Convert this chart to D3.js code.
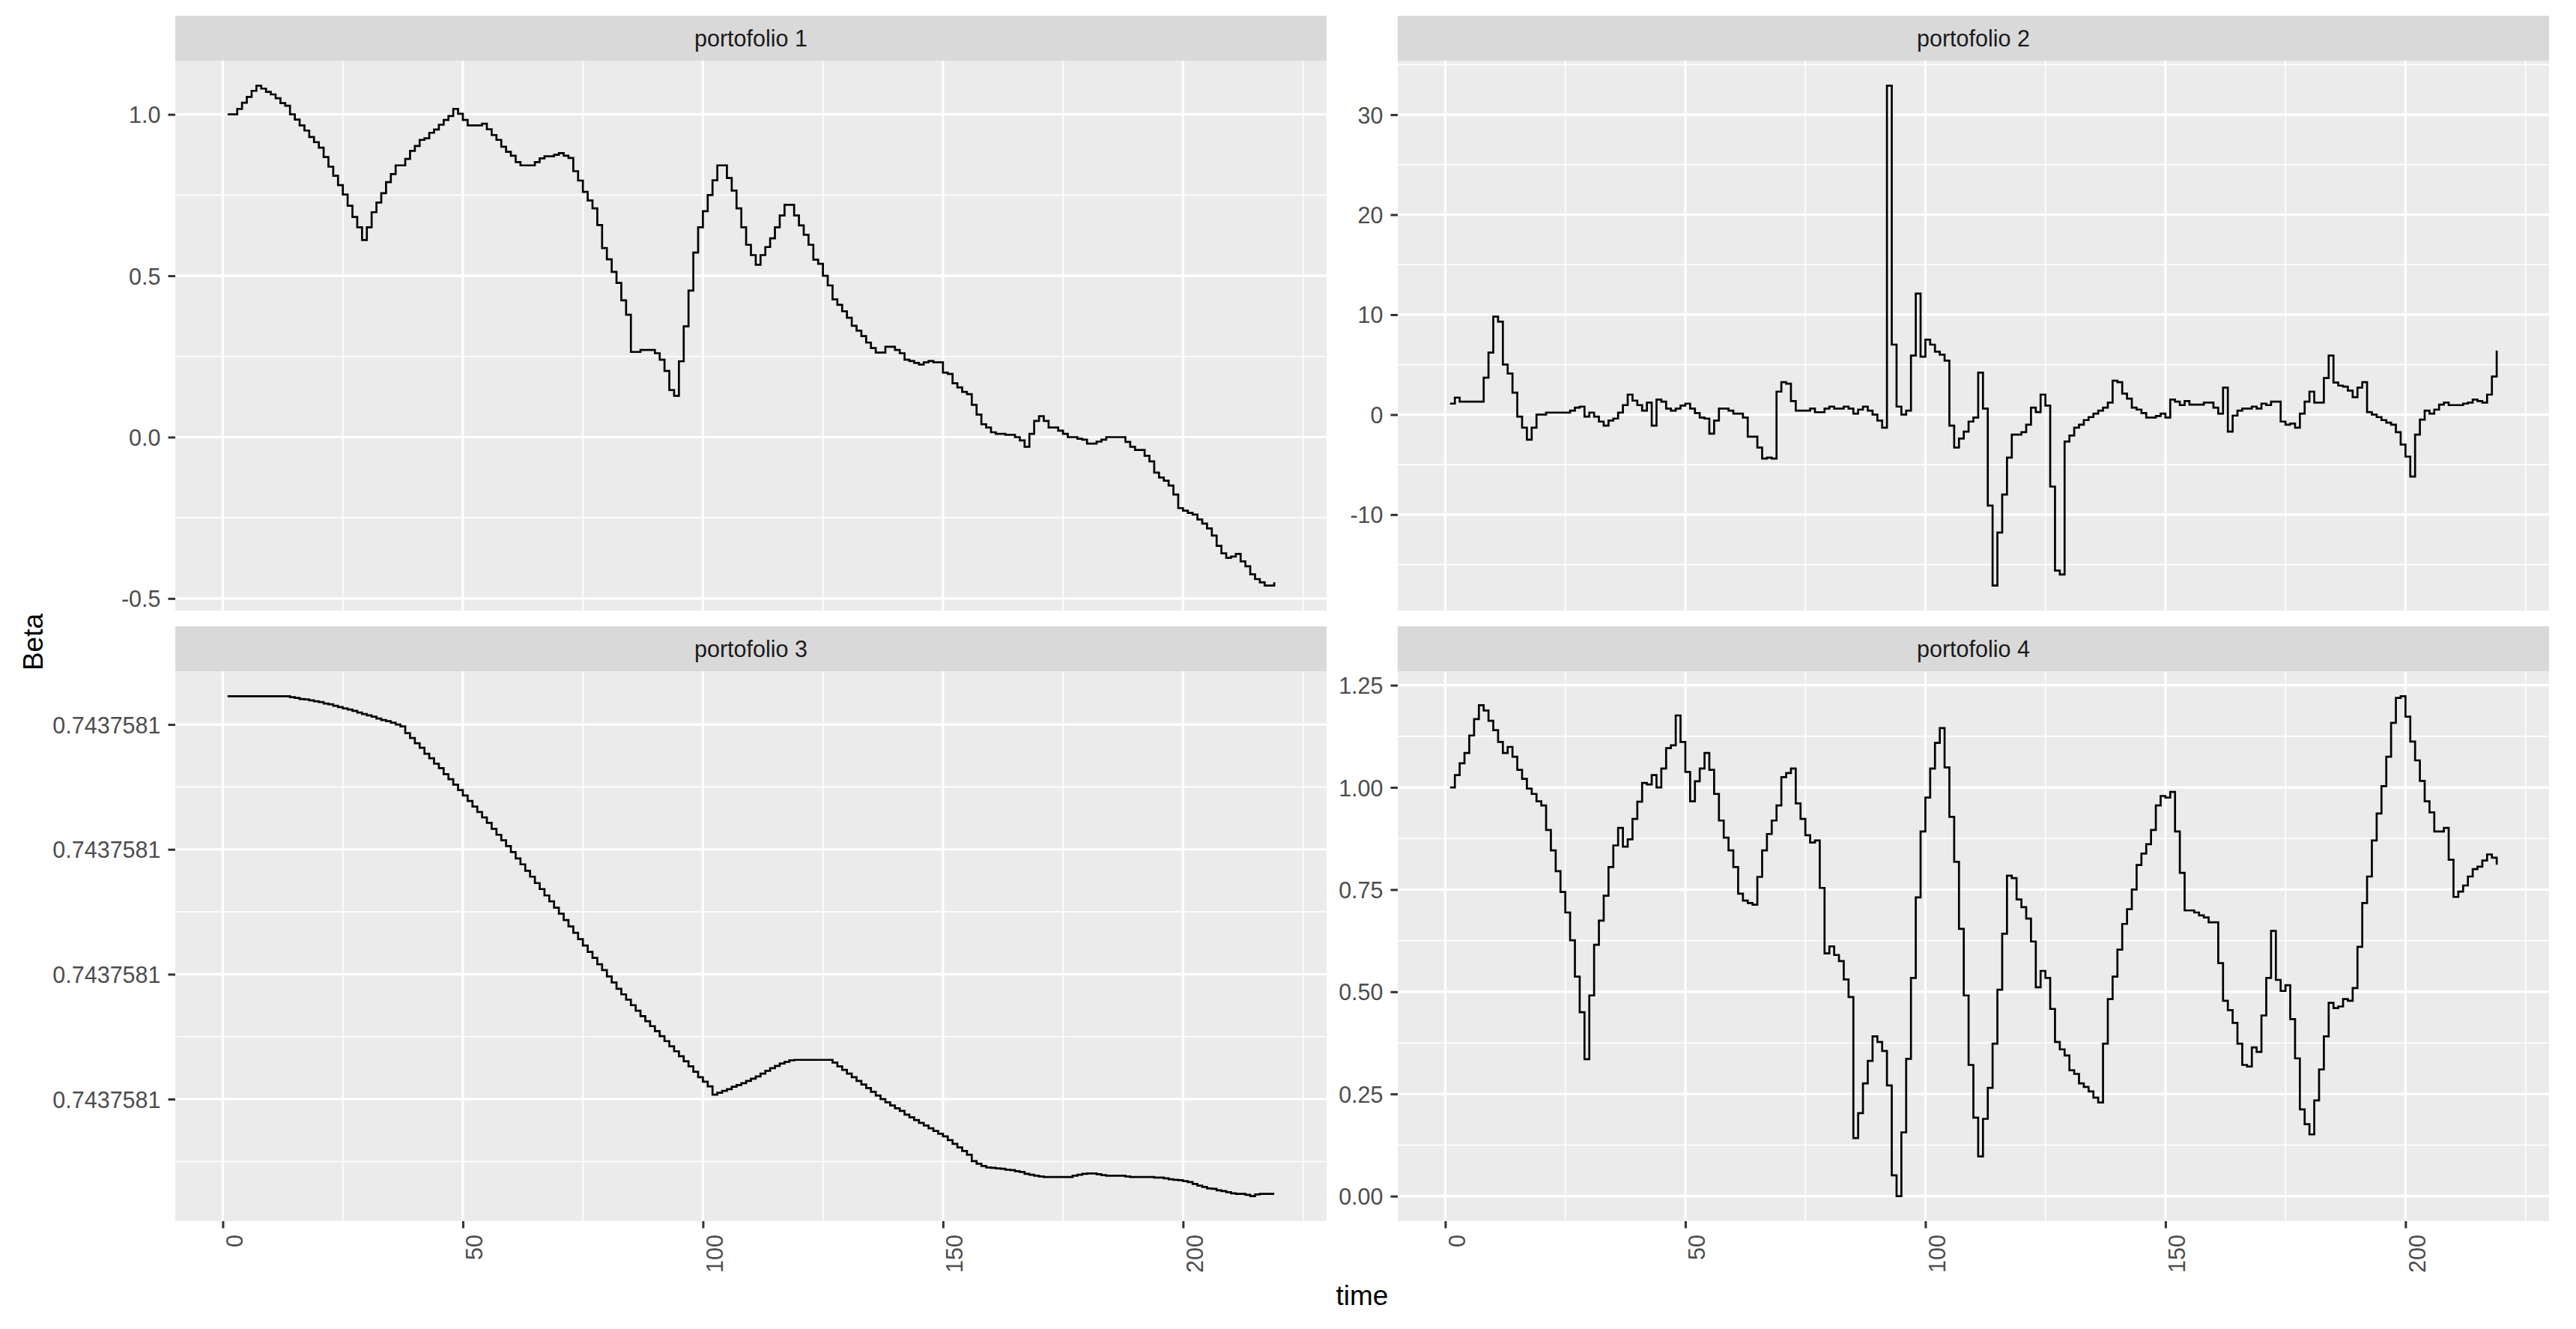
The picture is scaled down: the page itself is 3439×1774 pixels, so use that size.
<!DOCTYPE html>
<html>
<head>
<meta charset="utf-8">
<script src="https://cdn.jsdelivr.net/npm/d3@7"></script>
<style>
  html, body { margin: 0; padding: 0; background: #ffffff; }
  svg { display: block; }
</style>
</head>
<body>
<script>
// ---------------- DATA ----------------
const panelTitles = ["portofolio 1", "portofolio 2", "portofolio 3", "portofolio 4"];
const timeStart = 1, timeEnd = 219;
const time = d3.range(timeStart, timeEnd + 1);

const xTickValues = [0, 50, 100, 150, 200];
const xTickLabels = ["0", "50", "100", "150", "200"];

const p1TickValues = [-0.5, 0, 0.5, 1.0];
const p1TickLabels = ["-0.5", "0.0", "0.5", "1.0"];
const p2TickValues = [-10, 0, 10, 20, 30];
const p2TickLabels = ["-10", "0", "10", "20", "30"];
// portofolio 3: values are 0.7437581 + v * 1e-9 (differences far below the printed precision)
const p3TickValues = [1, 2, 3, 4];
const p3TickLabels = ["0.7437581", "0.7437581", "0.7437581", "0.7437581"];
const p4TickValues = [0, 0.25, 0.5, 0.75, 1.0, 1.25];
const p4TickLabels = ["0.00", "0.25", "0.50", "0.75", "1.00", "1.25"];

const beta1 = [
  1.0, 1.0, 1.017, 1.036, 1.054, 1.073, 1.089, 1.08, 1.07, 1.062,
  1.05, 1.035, 1.027, 1.0, 0.984, 0.966, 0.95, 0.93, 0.914, 0.897,
  0.868, 0.838, 0.81, 0.781, 0.752, 0.717, 0.682, 0.65, 0.611, 0.65,
  0.697, 0.727, 0.756, 0.79, 0.815, 0.842, 0.842, 0.862, 0.887, 0.902,
  0.921, 0.926, 0.943, 0.953, 0.968, 0.983, 0.995, 1.017, 1.002, 0.983,
  0.966, 0.966, 0.966, 0.971, 0.954, 0.936, 0.921, 0.9, 0.884, 0.872,
  0.852, 0.842, 0.842, 0.842, 0.852, 0.864, 0.87, 0.87, 0.875, 0.88,
  0.872, 0.865, 0.824, 0.795, 0.76, 0.733, 0.709, 0.657, 0.586, 0.551,
  0.512, 0.478, 0.424, 0.379, 0.264, 0.264, 0.27, 0.27, 0.27, 0.26,
  0.24, 0.205, 0.146, 0.128, 0.235, 0.343, 0.454, 0.572, 0.65, 0.7,
  0.75, 0.796, 0.842, 0.842, 0.803, 0.764, 0.709, 0.65, 0.596, 0.564,
  0.534, 0.564, 0.589, 0.616, 0.65, 0.687, 0.72, 0.72, 0.687, 0.656,
  0.627, 0.596, 0.55, 0.537, 0.5, 0.47, 0.427, 0.41, 0.39, 0.37,
  0.345, 0.33, 0.313, 0.293, 0.276, 0.262, 0.262, 0.28, 0.28, 0.27,
  0.26, 0.24, 0.236, 0.23, 0.225, 0.232, 0.236, 0.232, 0.232, 0.2,
  0.196, 0.167, 0.154, 0.14, 0.133, 0.1, 0.07, 0.04, 0.03, 0.015,
  0.01, 0.01, 0.007, 0.007, 0.0, -0.01, -0.03, 0.01, 0.05, 0.065,
  0.05, 0.03, 0.03, 0.02, 0.01, 0.0, 0.0, -0.005, -0.008, -0.02,
  -0.02, -0.014, -0.008, 0.0, 0.0, 0.0, 0.0, -0.015, -0.03, -0.04,
  -0.04, -0.058, -0.075, -0.11, -0.125, -0.135, -0.15, -0.178, -0.22, -0.228,
  -0.235, -0.24, -0.255, -0.268, -0.283, -0.305, -0.337, -0.36, -0.374, -0.37,
  -0.362, -0.385, -0.40, -0.425, -0.44, -0.45, -0.46, -0.46, -0.45
];

const beta2 = [
  1.1, 1.7, 1.3, 1.3, 1.3, 1.3, 1.3, 3.7, 6.2, 9.8,
  9.3, 5.0, 4.1, 2.2, -0.2, -1.3, -2.5, -1.3, 0.0, 0.0,
  0.2, 0.2, 0.2, 0.2, 0.2, 0.4, 0.7, 0.8, -0.2, 0.2,
  -0.2, -0.7, -1.1, -0.6, -0.4, 0.2, 0.95, 2.0, 1.4, 0.95,
  0.4, 1.2, -1.1, 1.5, 1.3, 0.6, 0.4, 0.6, 0.9, 1.1,
  0.6, 0.15, -0.3, -0.4, -1.9, -0.6, 0.6, 0.6, 0.4, 0.1,
  0.1, -0.3, -2.2, -2.2, -3.3, -4.4, -4.3, -4.4, 2.3, 3.25,
  3.1, 1.35, 0.4, 0.4, 0.4, 0.6, 0.24, 0.24, 0.6, 0.8,
  0.6, 0.6, 0.8, 0.6, 0.1, 0.5, 0.8, 0.4, 0.0, -0.6,
  -1.3, 32.9, 7.0, 0.8, 0.0, 0.4, 5.9, 12.1, 5.8, 7.5,
  7.0, 6.3, 6.0, 5.4, -1.1, -3.3, -2.4, -1.7, -0.7, -0.3,
  4.2, 0.6, -9.1, -17.1, -11.8, -8.0, -4.3, -2.0, -2.0, -1.75,
  -1.0, 0.7, 0.25, 2.0, 0.9, -7.2, -15.6, -16.0, -2.7, -2.1,
  -1.3, -1.0, -0.55, -0.25, 0.1, 0.4, 0.7, 1.2, 3.4, 3.25,
  2.1, 1.6, 0.7, 0.5, 0.15, -0.3, -0.3, -0.15, 0.1, -0.3,
  1.5, 1.3, 0.95, 1.35, 1.0, 1.0, 1.0, 1.2, 1.2, 0.7,
  0.1, 2.7, -1.7, -0.1, 0.4, 0.6, 0.6, 0.8, 0.6, 1.1,
  0.95, 1.3, 1.3, -0.7, -1.0, -0.9, -1.3, 0.1, 1.3, 2.3,
  1.2, 1.2, 3.65, 5.9, 3.2, 2.9, 2.8, 2.4, 1.75, 2.7,
  3.25, 0.25, 0.0, -0.25, -0.55, -0.8, -1.0, -1.75, -3.0, -4.2,
  -6.2, -2.0, -0.5, 0.4, 0.1, 0.5, 1.0, 1.2, 0.95, 0.95,
  0.95, 1.1, 1.2, 1.5, 1.35, 1.2, 2.0, 3.8, 6.4
];

// offsets above 0.7437581, in units of 1e-9
const beta3 = [
  4.226, 4.226, 4.226, 4.226, 4.226, 4.226, 4.226, 4.226, 4.226, 4.226,
  4.226, 4.226, 4.226, 4.219, 4.212, 4.204, 4.201, 4.193, 4.186, 4.179,
  4.168, 4.161, 4.150, 4.139, 4.128, 4.120, 4.109, 4.095, 4.084, 4.073,
  4.062, 4.047, 4.036, 4.026, 4.015, 4.000, 3.985, 3.931, 3.891, 3.850,
  3.814, 3.766, 3.730, 3.686, 3.650, 3.602, 3.562, 3.518, 3.474, 3.431,
  3.387, 3.343, 3.299, 3.255, 3.212, 3.164, 3.117, 3.073, 3.026, 2.978,
  2.927, 2.880, 2.828, 2.781, 2.730, 2.682, 2.631, 2.584, 2.533, 2.485,
  2.434, 2.383, 2.332, 2.281, 2.230, 2.179, 2.131, 2.080, 2.033, 1.982,
  1.934, 1.883, 1.839, 1.796, 1.752, 1.708, 1.664, 1.624, 1.584, 1.544,
  1.504, 1.464, 1.423, 1.383, 1.343, 1.303, 1.263, 1.219, 1.175, 1.139,
  1.102, 1.036, 1.051, 1.066, 1.080, 1.099, 1.113, 1.128, 1.146, 1.164,
  1.182, 1.204, 1.226, 1.248, 1.266, 1.285, 1.299, 1.310, 1.314, 1.314,
  1.314, 1.314, 1.314, 1.314, 1.314, 1.314, 1.292, 1.263, 1.234, 1.204,
  1.175, 1.146, 1.117, 1.088, 1.058, 1.029, 1.000, 0.974, 0.949, 0.927,
  0.905, 0.876, 0.854, 0.832, 0.810, 0.788, 0.766, 0.745, 0.723, 0.701,
  0.672, 0.642, 0.613, 0.584, 0.555, 0.504, 0.482, 0.464, 0.453, 0.449,
  0.445, 0.442, 0.434, 0.431, 0.423, 0.416, 0.401, 0.394, 0.387, 0.380,
  0.376, 0.376, 0.376, 0.376, 0.376, 0.376, 0.387, 0.394, 0.401, 0.405,
  0.405, 0.398, 0.391, 0.387, 0.387, 0.387, 0.387, 0.380, 0.376, 0.376,
  0.376, 0.376, 0.376, 0.372, 0.372, 0.365, 0.358, 0.354, 0.350, 0.343,
  0.336, 0.321, 0.307, 0.296, 0.285, 0.281, 0.270, 0.263, 0.255, 0.245,
  0.241, 0.241, 0.234, 0.223, 0.237, 0.241, 0.241, 0.241, 0.241
];

const beta4 = [
  1.0, 1.03, 1.059, 1.084, 1.127, 1.167, 1.201, 1.188, 1.163, 1.140,
  1.111, 1.084, 1.099, 1.075, 1.043, 1.021, 0.997, 0.984, 0.966, 0.956,
  0.896, 0.846, 0.795, 0.744, 0.694, 0.626, 0.537, 0.450, 0.335, 0.491,
  0.615, 0.674, 0.735, 0.805, 0.858, 0.901, 0.855, 0.873, 0.923, 0.965,
  1.011, 1.007, 1.03, 1.0, 1.046, 1.096, 1.103, 1.176, 1.111, 1.038,
  0.966, 1.015, 1.046, 1.084, 1.043, 0.984, 0.919, 0.877, 0.846, 0.805,
  0.740, 0.723, 0.717, 0.713, 0.781, 0.846, 0.886, 0.919, 0.956, 1.025,
  1.035, 1.046, 0.961, 0.923, 0.883, 0.865, 0.870, 0.754, 0.594, 0.611,
  0.590, 0.575, 0.530, 0.487, 0.142, 0.203, 0.276, 0.331, 0.391, 0.377,
  0.355, 0.271, 0.051, 0.0, 0.156, 0.336, 0.534, 0.731, 0.892, 0.975,
  1.046, 1.109, 1.145, 1.049, 0.928, 0.818, 0.654, 0.491, 0.321, 0.192,
  0.097, 0.189, 0.265, 0.373, 0.505, 0.642, 0.784, 0.778, 0.726, 0.707,
  0.679, 0.623, 0.511, 0.551, 0.534, 0.458, 0.377, 0.359, 0.344, 0.308,
  0.299, 0.276, 0.267, 0.256, 0.241, 0.229, 0.373, 0.482, 0.537, 0.603,
  0.666, 0.702, 0.750, 0.810, 0.838, 0.861, 0.896, 0.956, 0.979, 0.975,
  0.989, 0.892, 0.791, 0.699, 0.699, 0.694, 0.687, 0.682, 0.670, 0.670,
  0.570, 0.478, 0.455, 0.424, 0.373, 0.321, 0.317, 0.364, 0.353, 0.442,
  0.534, 0.649, 0.529, 0.502, 0.516, 0.433, 0.337, 0.212, 0.176, 0.151,
  0.234, 0.310, 0.391, 0.473, 0.460, 0.464, 0.482, 0.478, 0.509, 0.610,
  0.717, 0.782, 0.870, 0.936, 1.003, 1.075, 1.158, 1.219, 1.223, 1.173,
  1.112, 1.066, 1.016, 0.966, 0.939, 0.892, 0.892, 0.901, 0.823, 0.732,
  0.745, 0.760, 0.782, 0.800, 0.806, 0.821, 0.836, 0.828, 0.811
];

const series = [beta1, beta2, beta3, beta4];
const yTickValues = [p1TickValues, p2TickValues, p3TickValues, p4TickValues];
const yTickLabels = [p1TickLabels, p2TickLabels, p3TickLabels, p4TickLabels];

// ---------------- LAYOUT ----------------
const W = 3439, H = 1774;
const FONT = "'Liberation Sans', Arial, Helvetica, sans-serif";
const colX = [234, 1866];
const rowY = [21, 836];
const panelW = 1537, stripH = 60, panelH = 734;
const axisFS = 30.5, titleFS = 37;
const tickLen = 9.5;

const svg = d3.select("body").append("svg")
  .attr("width", W).attr("height", H)
  .attr("viewBox", `0 0 ${W} ${H}`);
svg.append("rect").attr("width", W).attr("height", H).attr("fill", "#ffffff");

function expand(ext) {
  const r = ext[1] - ext[0];
  return [ext[0] - 0.05 * r, ext[1] + 0.05 * r];
}
function minorBreaks(major, domain) {
  const step = major[1] - major[0];
  const ext = [major[0] - step, ...major, major[major.length - 1] + step];
  const out = [];
  for (let i = 0; i < ext.length - 1; i++) {
    const m = (ext[i] + ext[i + 1]) / 2;
    if (m >= domain[0] && m <= domain[1]) out.push(m);
  }
  return out;
}

const xDomain = expand([timeStart, timeEnd]);
const x = d3.scaleLinear().domain(xDomain).range([0, panelW]);
const xMinor = minorBreaks(xTickValues, xDomain);

series.forEach((vals, i) => {
  const col = i % 2, row = Math.floor(i / 2);
  const g = svg.append("g").attr("transform", `translate(${colX[col]},${rowY[row]})`);

  // strip
  g.append("rect").attr("x", 0).attr("y", 0).attr("width", panelW).attr("height", stripH)
    .attr("fill", "#D9D9D9");
  g.append("text").attr("x", panelW / 2).attr("y", stripH / 2).attr("dy", "0.35em")
    .attr("text-anchor", "middle").attr("font-family", FONT).attr("font-size", axisFS)
    .attr("fill", "#1A1A1A").text(panelTitles[i]);

  const pg = g.append("g").attr("transform", `translate(0,${stripH})`);
  pg.append("rect").attr("width", panelW).attr("height", panelH).attr("fill", "#EBEBEB");

  const yDomain = expand(d3.extent(vals));
  const y = d3.scaleLinear().domain(yDomain).range([panelH, 0]);
  const yMinor = minorBreaks(yTickValues[i], yDomain);

  // minor grid
  pg.append("g").selectAll("line.ymin").data(yMinor).join("line")
    .attr("x1", 0).attr("x2", panelW).attr("y1", d => y(d)).attr("y2", d => y(d))
    .attr("stroke", "#ffffff").attr("stroke-width", 1.6);
  pg.append("g").selectAll("line.xmin").data(xMinor).join("line")
    .attr("y1", 0).attr("y2", panelH).attr("x1", d => x(d)).attr("x2", d => x(d))
    .attr("stroke", "#ffffff").attr("stroke-width", 1.6);
  // major grid
  pg.append("g").selectAll("line").data(yTickValues[i]).join("line")
    .attr("x1", 0).attr("x2", panelW).attr("y1", d => y(d)).attr("y2", d => y(d))
    .attr("stroke", "#ffffff").attr("stroke-width", 3.2);
  pg.append("g").selectAll("line").data(xTickValues).join("line")
    .attr("y1", 0).attr("y2", panelH).attr("x1", d => x(d)).attr("x2", d => x(d))
    .attr("stroke", "#ffffff").attr("stroke-width", 3.2);

  // step line
  const clipId = `clip${i}`;
  pg.append("clipPath").attr("id", clipId).append("rect")
    .attr("width", panelW).attr("height", panelH);
  const line = d3.line()
    .x((d, k) => x(time[k]))
    .y(d => y(d))
    .curve(d3.curveStepAfter);
  pg.append("path").datum(vals)
    .attr("clip-path", `url(#${clipId})`)
    .attr("d", line)
    .attr("fill", "none").attr("stroke", "#000000").attr("stroke-width", 2.7)
    .attr("stroke-linejoin", "miter").attr("stroke-linecap", "butt");

  // y axis
  const labels = yTickLabels[i];
  const yAxis = d3.axisLeft(y).tickValues(yTickValues[i])
    .tickFormat((d, k) => labels[k]).tickSize(tickLen).tickPadding(10);
  const ya = pg.append("g").call(yAxis);
  ya.select(".domain").remove();
  ya.selectAll(".tick line").attr("stroke", "#333333").attr("stroke-width", 3);
  ya.selectAll(".tick text").attr("font-family", FONT).attr("font-size", axisFS)
    .attr("fill", "#4D4D4D").attr("dy", "0.36em");

  // x axis only on bottom row
  if (row === 1) {
    const xAxis = d3.axisBottom(x).tickValues(xTickValues)
      .tickFormat((d, k) => xTickLabels[k]).tickSize(tickLen);
    const xa = pg.append("g").attr("transform", `translate(0,${panelH})`).call(xAxis);
    xa.select(".domain").remove();
    xa.selectAll(".tick line").attr("stroke", "#333333").attr("stroke-width", 3);
    xa.selectAll(".tick text")
      .attr("y", null).attr("dy", null).attr("x", null)
      .attr("text-anchor", "end")
      .attr("transform", "translate(26,18) rotate(-90)")
      .attr("font-family", FONT).attr("font-size", axisFS).attr("fill", "#4D4D4D");
  }
  ya.attr("font-family", null);
});

// axis titles
svg.append("text").attr("x", (colX[0] + colX[1] + panelW) / 2).attr("y", 1742)
  .attr("text-anchor", "middle").attr("font-family", FONT).attr("font-size", titleFS)
  .attr("fill", "#000000").text("time");
svg.append("text").attr("transform", "translate(57,857) rotate(-90)")
  .attr("text-anchor", "middle").attr("font-family", FONT).attr("font-size", titleFS)
  .attr("fill", "#000000").text("Beta");
</script>
</body>
</html>
